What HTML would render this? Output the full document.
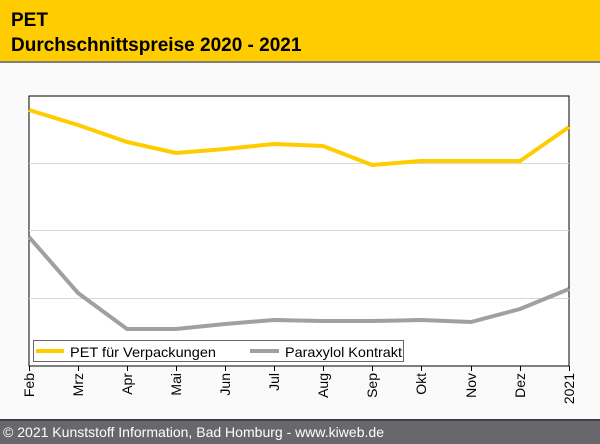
<!DOCTYPE html><html><head><style>body{margin:0;width:600px;height:444px;overflow:hidden;background:#fafafa;font-family:"Liberation Sans",sans-serif}</style></head><body>
<svg width="600" height="444" xmlns="http://www.w3.org/2000/svg" style="position:absolute;left:0;top:0">
<rect width="600" height="444" fill="#fafafa"/>
<rect width="600" height="61" fill="#ffcc00"/>
<rect y="61" width="600" height="2" fill="#808080"/>
<text x="11" y="26" font-size="19" font-weight="bold" fill="#000">PET</text>
<text x="11" y="51" font-size="19" font-weight="bold" fill="#000">Durchschnittspreise 2020 - 2021</text>
<rect x="29" y="96" width="540" height="270" fill="#fff" stroke="#000" stroke-width="1"/>
<g stroke="#d8d8d8" stroke-width="1"><line x1="29" x2="569" y1="163.5" y2="163.5"/><line x1="29" x2="569" y1="230.5" y2="230.5"/><line x1="29" x2="569" y1="298.5" y2="298.5"/></g>
<polyline fill="none" stroke="#ffcc00" stroke-width="4" points="29,110 78,125 127,142 176,153 225,149 274,144 323,146 372,165 421,161 471,161 520,161 569,127"/>
<polyline fill="none" stroke="#a0a0a0" stroke-width="4" points="29,237 78,293 127,329 176,329 225,324 274,320 323,321 372,321 421,320 471,322 520,309 569,289"/>
<rect x="33.5" y="340.5" width="370" height="21" fill="#fff" stroke="#666"/>
<line x1="36" x2="64" y1="351" y2="351" stroke="#ffcc00" stroke-width="4"/>
<text x="70" y="357" font-size="14" textLength="146" lengthAdjust="spacingAndGlyphs">PET für Verpackungen</text>
<line x1="250" x2="279" y1="351" y2="351" stroke="#a0a0a0" stroke-width="4"/>
<text x="285" y="357" font-size="14" textLength="117" lengthAdjust="spacingAndGlyphs">Paraxylol Kontrakt</text>
<g stroke="#000"><line x1="29" x2="569" y1="366" y2="366"/>
<line x1="29.5" x2="29.5" y1="366" y2="371"/><line x1="78.5" x2="78.5" y1="366" y2="371"/><line x1="127.5" x2="127.5" y1="366" y2="371"/><line x1="176.5" x2="176.5" y1="366" y2="371"/><line x1="225.5" x2="225.5" y1="366" y2="371"/><line x1="274.5" x2="274.5" y1="366" y2="371"/><line x1="323.5" x2="323.5" y1="366" y2="371"/><line x1="372.5" x2="372.5" y1="366" y2="371"/><line x1="421.5" x2="421.5" y1="366" y2="371"/><line x1="471.5" x2="471.5" y1="366" y2="371"/><line x1="520.5" x2="520.5" y1="366" y2="371"/><line x1="569.5" x2="569.5" y1="366" y2="371"/></g>
<g font-size="14" fill="#000" text-anchor="end">
<text transform="translate(34,373) rotate(-90)">Feb</text>
<text transform="translate(83,373) rotate(-90)">Mrz</text>
<text transform="translate(132,373) rotate(-90)">Apr</text>
<text transform="translate(181,373) rotate(-90)">Mai</text>
<text transform="translate(230,373) rotate(-90)">Jun</text>
<text transform="translate(279,373) rotate(-90)">Jul</text>
<text transform="translate(328,373) rotate(-90)">Aug</text>
<text transform="translate(377,373) rotate(-90)">Sep</text>
<text transform="translate(426,373) rotate(-90)">Okt</text>
<text transform="translate(476,373) rotate(-90)">Nov</text>
<text transform="translate(525,373) rotate(-90)">Dez</text>
<text transform="translate(574,373) rotate(-90)">2021</text>
</g>
<rect y="419" width="600" height="25" fill="#68686c"/>
<rect y="419" width="600" height="2" fill="#404040"/>
<text x="3" y="437" font-size="14" fill="#fff" textLength="381" lengthAdjust="spacingAndGlyphs">© 2021 Kunststoff Information, Bad Homburg - www.kiweb.de</text>
</svg></body></html>
